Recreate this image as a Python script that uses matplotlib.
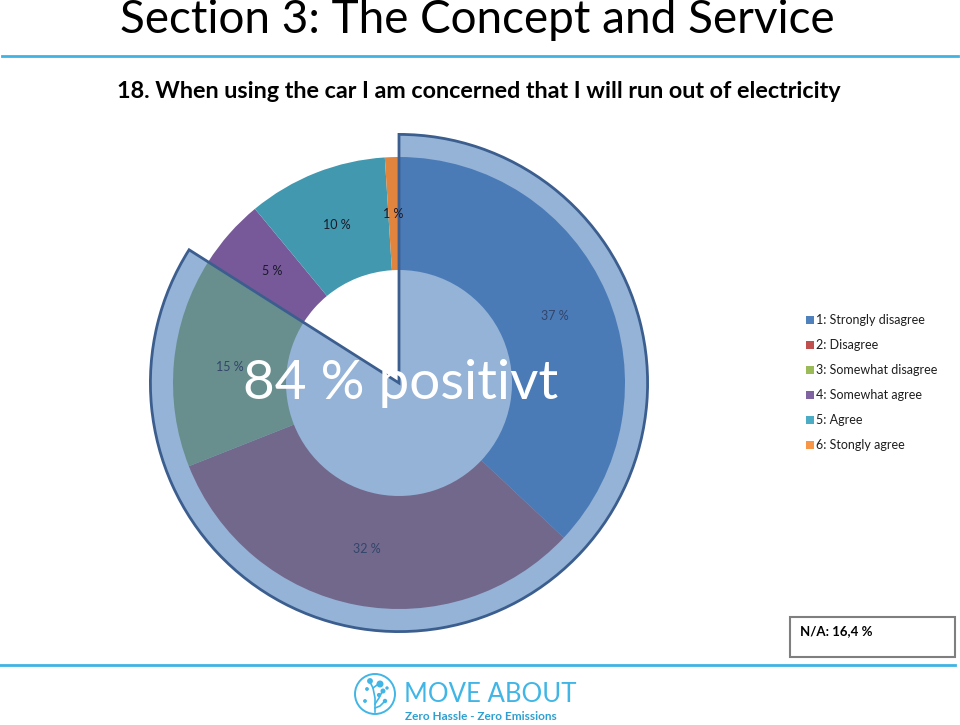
import matplotlib
matplotlib.use("Agg")
import matplotlib.pyplot as plt
from matplotlib.patches import Rectangle, Circle
from matplotlib.lines import Line2D

# ── Data ──────────────────────────────────────────────────────────
categories = ["1: Strongly disagree", "2: Disagree", "3: Somewhat disagree",
              "4: Somewhat agree", "5: Agree", "6: Stongly agree"]
# slice order clockwise from 12 o'clock, as drawn
slice_values = [37, 32, 15, 5, 10, 1]
slice_colors = ["#4A7BB7", "#72688C", "#688F8E", "#77599A", "#4198AF", "#E0843E"]
legend_colors = ["#4F81BD", "#C0504D", "#9BBB59", "#8064A2", "#4BACC6", "#F79646"]
n_highlight = 3            # first three slices make up the highlighted share
highlight_text = "84 % positivt"
na_text = "N/A: 16,4 %"

# ── Palette ───────────────────────────────────────────────────────
OVERLAY = "#95B3D7"
OVERLAY_EDGE = "#3B5E8E"
RULE = "#3FB3E3"
LOGO = "#41B6E6"

W, H, DPI = 960, 725, 100
fig = plt.figure(figsize=(W / DPI, H / DPI), dpi=DPI, facecolor="white")
plt.rcParams["font.family"] = ["Lato", "DejaVu Sans"]


def px(x, y):
    """pixel coords (top-left origin) -> figure fraction"""
    return x / W, 1 - y / H


# ── Header ────────────────────────────────────────────────────────
fig.text(*px(477, 20), "Section 3: The Concept and Service", fontsize=33,
         ha="center", va="center", color="black")
fig.add_artist(Line2D([0.002, 0.998], [1 - 56 / H] * 2, color=RULE, lw=2))
fig.text(*px(479, 92), "18. When using the car I am concerned that I will run out of electricity",
         fontsize=16.8, fontweight="bold", ha="center", va="center", color="black")

# ── Pie axes: centre (399, 383) px, donut radius 226 px ───────────
S = 226
half = 1.2 * S
ax = fig.add_axes([(399 - half) / W, (H - 383 - half) / H, 2 * half / W, 2 * half / H])
ax.set_xlim(-1.2, 1.2)
ax.set_ylim(-1.2, 1.2)
ax.set_aspect("equal")
ax.axis("off")

share = sum(slice_values[:n_highlight])
rest = sum(slice_values) - share

# highlighted sector, filled (behind the donut)
wedges_bg, _ = ax.pie([share, rest], radius=1.1, startangle=90, counterclock=False,
                      colors=[OVERLAY, "none"], wedgeprops=dict(linewidth=0))
for w in wedges_bg:
    w.set_zorder(1)

# donut
wedges, _, autotexts = ax.pie(
    slice_values, radius=1.0, startangle=90, counterclock=False,
    colors=slice_colors, autopct=lambda p: f"{p:.0f} %", pctdistance=0.75,
    wedgeprops=dict(width=0.5, linewidth=0),
    textprops=dict(fontsize=9),
)
for w in wedges:
    w.set_zorder(2)
for i, t in enumerate(autotexts):
    t.set_zorder(5)
    t.set_color("#33456A" if i < n_highlight else "#1A1A2A")

# highlighted sector outline on top
wedges_fg, _ = ax.pie([share, rest], radius=1.1, startangle=90, counterclock=False,
                      colors=["none", "none"])
wedges_fg[0].set_edgecolor(OVERLAY_EDGE)
wedges_fg[0].set_linewidth(2)
wedges_fg[0].set_zorder(3)
wedges_fg[1].set_linewidth(0)

ax.set_xlim(-1.2, 1.2)
ax.set_ylim(-1.2, 1.2)

fig.text(*px(401, 383), highlight_text, fontsize=39.5, color="white",
         ha="center", va="center", zorder=10)

# ── Legend ────────────────────────────────────────────────────────
for i, (lab, col) in enumerate(zip(categories, legend_colors)):
    y = 320 + i * 25
    fig.add_artist(Rectangle(px(806, y + 4), 8 / W, 8 / H, transform=fig.transFigure,
                             facecolor=col, edgecolor="none"))
    fig.text(*px(816, y), lab, fontsize=9, ha="left", va="center", color="#1E1E1E")

# ── N/A box ───────────────────────────────────────────────────────
fig.add_artist(Rectangle(px(790, 657), 165 / W, 40 / H, transform=fig.transFigure,
                         facecolor="white", edgecolor="#7F7F7F", lw=1.5))
fig.text(*px(800, 631), na_text, fontsize=9.5, fontweight="bold",
         ha="left", va="center", color="black")

# ── Footer ────────────────────────────────────────────────────────
fig.add_artist(Line2D([0.0, 0.995], [1 - 665 / H] * 2, color=RULE, lw=2))

lax = fig.add_axes([(375 - 25) / W, (H - 694 - 25) / H, 50 / W, 50 / H])
lax.set_xlim(-25, 25)
lax.set_ylim(-25, 25)
lax.set_aspect("equal")
lax.axis("off")
lax.add_patch(Circle((0, 0), 20, facecolor="none", edgecolor=LOGO, lw=1.4))
lax.plot([0, 0, -2, -5], [-18, -4, 6, 12], color=LOGO, lw=1.2)
lax.plot([0, 4, 7], [-10, -4, 2], color=LOGO, lw=1.2)
lax.plot([0, 5, 9], [-14, -12, -8], color=LOGO, lw=1.2)
lax.plot([-2, 2, 5], [6, 9, 10], color=LOGO, lw=1.2)
for (dx, dy, r) in [(-5, 13, 2.2), (5, 10, 2.8), (8, 3, 1.8), (10, -7, 1.5),
                    (-8, 5, 1.2), (-10, -7, 1.2), (4, -1, 1.4), (12, 6, 1.0)]:
    lax.add_patch(Circle((dx, dy), r, color=LOGO))

fig.text(*px(404, 694), "MOVE ABOUT", fontsize=18.5, color=LOGO,
         ha="left", va="center")
fig.text(*px(405, 716), "Zero Hassle - Zero Emissions", fontsize=8.5, color="#2E9FD0",
         fontweight="bold", ha="left", va="center")

fig.savefig("out.png", dpi=DPI, facecolor="white")
